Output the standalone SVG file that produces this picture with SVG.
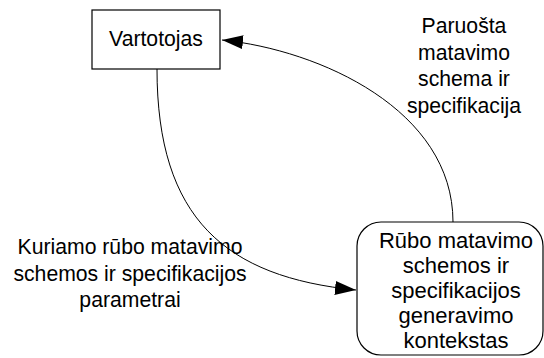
<svg xmlns="http://www.w3.org/2000/svg" width="544" height="358" viewBox="0 0 544 358">
  <style>
    .shape { fill: #ffffff; stroke: #000000; stroke-width: 1.2; }
    .edge { fill: none; stroke: #000000; stroke-width: 1; }
    text { font-family: "Liberation Sans", Arial, sans-serif; font-size: 21.2px; fill: #000000; text-anchor: middle; }
    .inner { font-size: 22px; }
  </style>
  <defs>
    <marker id="arrow" markerUnits="userSpaceOnUse" markerWidth="22" markerHeight="14" refX="21" refY="7" orient="auto">
      <path d="M0,0 L21,7 L0,14 Z" fill="#000000"/>
    </marker>
  </defs>
  <rect width="544" height="358" fill="#ffffff"/>

  <g id="connectors">
    <!-- context -> user -->
    <path class="edge" d="M453,222 C453,110 320,50 222,40" marker-end="url(#arrow)"/>
    <!-- user -> context -->
    <path class="edge" d="M157,69 C157,219 226,277 356,290" marker-end="url(#arrow)"/>
  </g>

  <g id="node-vartotojas">
    <rect class="shape" x="92" y="10" width="128" height="59"/>
    <text x="156" y="46">Vartotojas</text>
  </g>

  <g id="node-kontekstas">
    <rect class="shape" x="357" y="222" width="186" height="133" rx="24" ry="24"/>
    <text class="inner" x="456" y="247.5">Rūbo matavimo</text>
    <text class="inner" x="456" y="272.5">schemos ir</text>
    <text class="inner" x="456" y="297.5">specifikacijos</text>
    <text class="inner" x="456" y="322.5">generavimo</text>
    <text class="inner" x="456" y="347.5">kontekstas</text>
  </g>

  <g id="label-paruosta">
    <text x="464" y="33">Paruošta</text>
    <text x="464" y="59.5">matavimo</text>
    <text x="464" y="86">schema ir</text>
    <text x="464" y="112.5">specifikacija</text>
  </g>

  <g id="label-kuriamo">
    <text x="130" y="254">Kuriamo rūbo matavimo</text>
    <text x="130" y="280.5">schemos ir specifikacijos</text>
    <text x="130" y="307">parametrai</text>
  </g>
</svg>
